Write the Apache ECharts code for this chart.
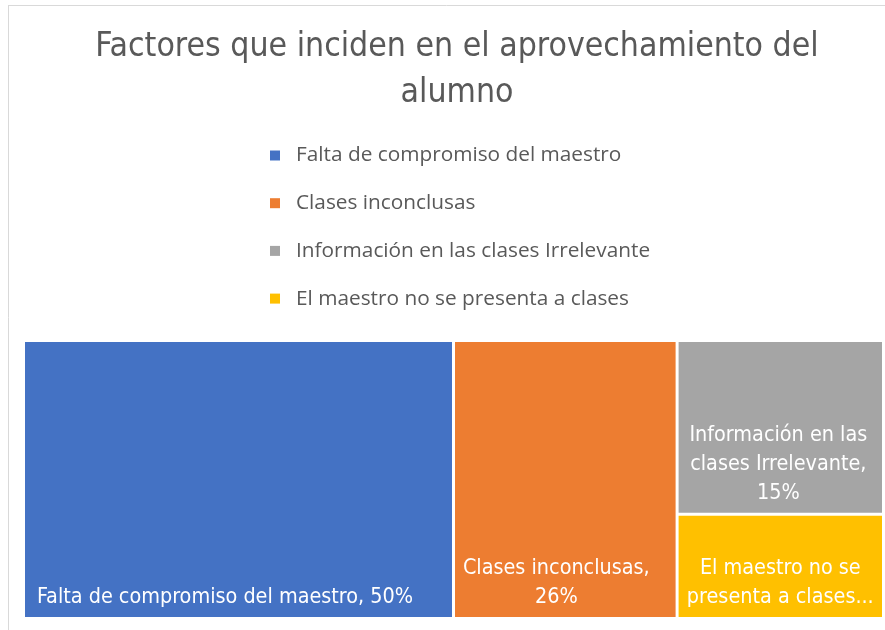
<!DOCTYPE html>
<html>
<head>
<meta charset="utf-8">
<script src="https://cdn.jsdelivr.net/npm/echarts@6/dist/echarts.min.js"></script>
<style>
  html, body { margin: 0; padding: 0; background: #fff; }
  #chart { width: 885px; height: 630px; }
</style>
</head>
<body>
<div id="chart"></div>
<script>
// datos del grafico
var categorias = ['Falta de compromiso del maestro', 'Clases inconclusas', 'Información en las clases Irrelevante', 'El maestro no se presenta a clases'];
var porcentajes = [50, 26, 15, 9];
var colores = ['#4472C4', '#ED7D31', '#A5A5A5', '#FFC000'];

// etiquetas dentro de cada rectangulo
var etiquetas = [
    'Falta de compromiso del maestro, 50%',
    'Clases inconclusas,\n26%',
    'Información en las\nclases Irrelevante,\n15%',
    'El maestro no se\npresenta a clases...'
];
var alineacion = ['left', 'center', 'center', 'center'];
var desplazamiento = [[7, 0], [-9, 0], [-2, 0], [0, 0]];

var fuenteAngosta = '"DejaVu Sans Condensed", Roboto, sans-serif';

var myChart = echarts.init(document.getElementById('chart'));

var datos = categorias.map(function (c, i) {
    return {
        name: c,
        value: porcentajes[i],
        itemStyle: {color: colores[i]},
        label: {
            formatter: etiquetas[i],
            position: i === 0 ? 'insideBottomLeft' : 'insideBottom',
            align: alineacion[i],
            offset: desplazamiento[i]
        }
    };
});

var option = {
    backgroundColor: '#fff',
    animation: false,
    color: colores,
    title: {
        text: 'Factores que inciden en el aprovechamiento del\nalumno',
        left: 452,
        textAlign: 'center',
        top: 19,
        textStyle: {
            color: '#595959',
            fontFamily: fuenteAngosta,
            fontWeight: 'normal',
            fontSize: 33.5,
            lineHeight: 46
        }
    },
    legend: {
        orient: 'vertical',
        left: 265,
        top: 140,
        itemWidth: 10,
        itemHeight: 10,
        itemGap: 26.7,
        icon: 'rect',
        selectedMode: false,
        data: categorias,
        textStyle: {
            color: '#595959',
            fontFamily: 'Open Sans',
            fontSize: 20.8,
            lineHeight: 20,
            padding: [0, 0, 0, 11]
        }
    },
    graphic: [
        {type: 'line', shape: {x1: 8, y1: 5.5, x2: 885, y2: 5.5}, style: {stroke: '#d9d9d9', lineWidth: 1}},
        {type: 'line', shape: {x1: 8.5, y1: 5, x2: 8.5, y2: 630}, style: {stroke: '#d9d9d9', lineWidth: 1}}
    ],
    series: [
        {
            type: 'treemap',
            left: 25,
            top: 342,
            width: 857,
            height: 275,
            roam: false,
            nodeClick: false,
            breadcrumb: {show: false},
            itemStyle: {borderWidth: 0, gapWidth: 3},
            levels: [
                {itemStyle: {borderWidth: 0, gapWidth: 3}}
            ],
            label: {
                show: true,
                color: '#fff',
                fontFamily: fuenteAngosta,
                fontSize: 21.4,
                lineHeight: 29,
                distance: 0
            },
            data: datos
        },
        {
            // serie auxiliar solo para la leyenda
            type: 'pie',
            silent: true,
            radius: [0, 0],
            center: [-100, -100],
            label: {show: false},
            labelLine: {show: false},
            data: categorias.map(function (c, i) {
                return {name: c, value: porcentajes[i]};
            })
        }
    ]
};

myChart.setOption(option);
</script>
</body>
</html>
